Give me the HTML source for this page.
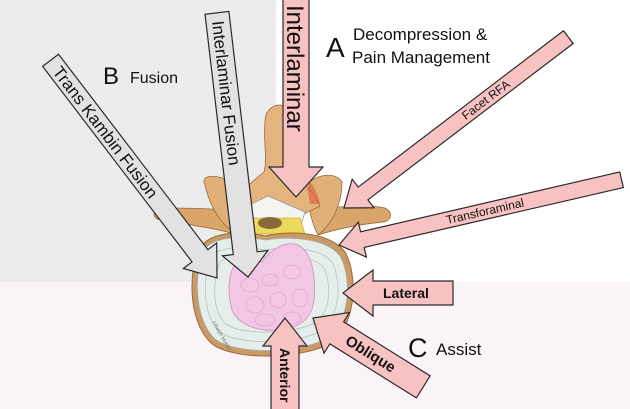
<!DOCTYPE html>
<html><head><meta charset="utf-8"><style>
html,body{margin:0;padding:0;width:630px;height:409px;overflow:hidden;background:#fff}
svg{display:block}
text{font-family:"Liberation Sans",sans-serif;fill:#111}
</style></head><body>
<svg width="630" height="409" viewBox="0 0 630 409" xmlns="http://www.w3.org/2000/svg">
<rect x="0" y="0" width="630" height="409" fill="#fff"/>
<rect x="0" y="0" width="276" height="282" fill="#ececec"/>
<rect x="0" y="282" width="630" height="127" fill="#faf4f8"/>

<g>
 <path d="M238,212 C215,208 185,208 160,208 C152,210 152,218 160,220 C185,224 215,228 238,235 Z" fill="#d9a56a" stroke="#9a6a3a" stroke-width="0.8"/>
 <path d="M318,210 C340,206 365,204 385,208 C393,212 392,220 384,222 C362,224 340,228 318,235 Z" fill="#d9a56a" stroke="#9a6a3a" stroke-width="0.8"/>
 <path d="M205,185 C200,175 214,174 228,180 C240,195 246,215 242,235 C228,232 212,215 205,185Z" fill="#e0b07a" stroke="#9a6a3a" stroke-width="0.8"/>
 <path d="M310,182 C318,174 336,172 342,182 C342,200 335,222 318,235 C310,220 306,198 310,182Z" fill="#e0b07a" stroke="#9a6a3a" stroke-width="0.8"/>
 <path d="M266,115 C272,100 292,102 290,120 C288,140 286,158 290,172 C302,182 314,192 320,206 L300,216 L262,216 L232,206 C240,192 254,180 264,172 C268,158 262,135 266,115Z" fill="#e4b47e" stroke="#9a6a3a" stroke-width="0.8"/>
 <path d="M305,175 C312,184 318,192 320,204 L310,204 Z" fill="#e05a3a" opacity="0.6"/>
 <path d="M235,212 L268,196 L305,212 L300,228 L240,228 Z" fill="#f4f4f0" stroke="#999" stroke-width="0.8"/>
 <path d="M240,218 L300,218 L305,234 L235,234 Z" fill="#ecd85a" stroke="#b8a030" stroke-width="0.6"/>
 <ellipse cx="270" cy="223" rx="12" ry="6" fill="#8a6a3a"/>
 <path d="M200,248 C210,232 240,230 265,236 C290,230 330,232 345,252 C358,275 356,320 335,340 C310,360 230,362 210,342 C188,320 188,270 200,248Z" fill="#c99a64" stroke="#9a6a3a"/>
 <path d="M204,250 C214,236 242,236 266,240 C290,236 326,238 340,256 C352,278 350,318 330,336 C306,354 234,356 214,338 C194,318 194,272 204,250Z" fill="#e6eeec" stroke="#aab" stroke-width="0.8"/>
 <path d="M212,256 C222,246 244,246 266,250 C290,246 320,248 332,262 C342,282 340,316 322,330 C302,344 238,346 220,332 C202,316 202,276 212,256Z" fill="none" stroke="#b8c0c0" stroke-width="0.8"/>
 <path d="M220,262 C230,254 246,254 266,258 C288,254 314,256 324,268 C332,286 330,312 316,322 C298,334 242,336 226,324 C212,312 212,280 220,262Z" fill="none" stroke="#b8c0c0" stroke-width="0.8"/>
 <path d="M232,270 C236,258 250,260 262,262 C270,250 285,240 298,245 C312,252 316,275 314,300 C312,318 300,328 280,330 C258,332 238,325 232,310 C228,296 228,280 232,270Z" fill="#f2c6e4" stroke="#c890b0" stroke-width="0.8"/>
 <g fill="none" stroke="#e2a8d0" stroke-width="0.8">
  <ellipse cx="250" cy="285" rx="9" ry="7"/><ellipse cx="270" cy="280" rx="8" ry="6"/><ellipse cx="292" cy="272" rx="9" ry="7"/>
  <ellipse cx="255" cy="305" rx="9" ry="8"/><ellipse cx="278" cy="300" rx="8" ry="8"/><ellipse cx="300" cy="298" rx="8" ry="9"/>
  <ellipse cx="265" cy="320" rx="10" ry="6"/><ellipse cx="292" cy="318" rx="9" ry="6"/>
 </g>
 <text x="0" y="0" font-size="5" transform="translate(212,322) rotate(60)" style="fill:#777">©Ralph Mobbs</text>
</g>

<g stroke="#2a2a2a" stroke-width="1.2" stroke-linejoin="miter">
 <g transform="translate(296,197) rotate(90)">
  <polygon points="-200,-13 -30,-13 -30,-27 0,0 -30,27 -30,13 -200,13" fill="#f8c2c2"/>
  <text x="-192" y="9" font-size="24" stroke="none">Interlaminar</text>
 </g>
 <g transform="translate(248,277) rotate(83.3)">
  <polygon points="-266,-12 -24,-12 -24,-23 0,0 -24,23 -24,12 -266,12" fill="#e2e2e2"/>
  <text x="-258" y="6" font-size="17" stroke="none">Interlaminar Fusion</text>
 </g>
 <g transform="translate(217,278) rotate(52.6)">
  <polygon points="-274,-10 -28,-10 -28,-21 0,0 -28,21 -28,10 -274,10" fill="#e2e2e2"/>
  <text x="-264" y="6" font-size="17" stroke="none">Trans Kambin Fusion</text>
 </g>
 <g transform="translate(344,208) rotate(142.7)">
  <polygon points="-282,-8 -24,-8 -24,-18 0,0 -24,18 -24,8 -282,8" fill="#f8c2c2"/>
  <text x="-150" y="4" font-size="12" stroke="none" transform="rotate(180,-150,0)">Facet RFA</text>
 </g>
 <g transform="translate(339,245) rotate(167)">
  <polygon points="-290,-8 -24,-8 -24,-18 0,0 -24,18 -24,8 -290,8" fill="#f8c2c2"/>
  <text x="-110" y="4" font-size="12" stroke="none" transform="rotate(180,-110,0)">Transforaminal</text>
 </g>
 <g transform="translate(343,293) rotate(180)">
  <polygon points="-110,-12 -30,-12 -30,-23 0,0 -30,23 -30,12 -110,12" fill="#f8c2c2"/>
  <text x="-40" y="5" font-size="14" font-weight="bold" stroke="none" transform="rotate(180,-40,0)">Lateral</text>
 </g>
 <g transform="translate(313,318) rotate(212)">
  <polygon points="-130,-13 -28,-13 -28,-24 0,0 -28,24 -28,13 -130,13" fill="#f8c2c2"/>
  <text x="-40" y="5" font-size="15" font-weight="bold" stroke="none" transform="rotate(180,-40,0)">Oblique</text>
 </g>
 <g transform="translate(285,318) rotate(-90)">
  <polygon points="-100,-14 -28,-14 -28,-22 0,0 -28,22 -28,14 -100,14" fill="#f8c2c2"/>
  <text x="-30" y="5" font-size="14" font-weight="bold" stroke="none" transform="rotate(180,-30,0)">Anterior</text>
 </g>
</g>

<text x="326" y="57" font-size="28">A</text>
<text x="353" y="40" font-size="17">Decompression &amp;</text>
<text x="352" y="63" font-size="17">Pain Management</text>
<text x="103" y="84" font-size="24">B</text>
<text x="130" y="83" font-size="16">Fusion</text>
<text x="408" y="357" font-size="27">C</text>
<text x="436" y="355" font-size="17">Assist</text>
</svg>
</body></html>
